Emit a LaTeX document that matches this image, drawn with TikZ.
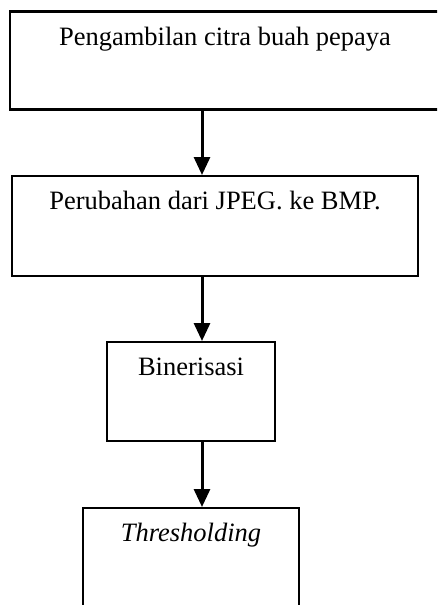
\documentclass[tikz,border=0pt]{standalone}
\usepackage{fontspec}
\setmainfont{Liberation Serif}
\usetikzlibrary{arrows.meta}
\tikzset{
    stepbox/.style={draw=black,line width=1.5pt,rectangle,inner sep=0pt,anchor=north,
        text height=34pt,font=\fontsize{26.5}{30}\selectfont},
    flow/.style={draw=black,line width=3pt,-{Triangle[length=18pt,width=16pt]}}
}
\begin{document}
\begin{tikzpicture}[x=1pt,y=-1pt]
    \useasboundingbox (0,0) rectangle (437,605);
    \clip (0,0) rectangle (437,605);
    \node[stepbox,line width=2.5pt,minimum width=430pt,text depth=64pt] (ambil) at (225,10) {Pengambilan citra buah pepaya};
    \node[stepbox,minimum width=406pt,text depth=66pt] (ubah) at (215,175) {Perubahan dari JPEG. ke BMP.};
    \node[stepbox,minimum width=168pt,text depth=65pt] (biner) at (191,341) {Binerisasi};
    \node[stepbox,minimum width=216pt,text depth=81pt] (thres) at (191,507) {\itshape Thresholding};
    \coordinate (axis) at (202,0);
    \draw[flow] (ambil.south -| axis) -- (ubah.north -| axis);
    \draw[flow] (ubah.south -| axis) -- (biner.north -| axis);
    \draw[flow] (biner.south -| axis) -- (thres.north -| axis);
\end{tikzpicture}
\end{document}
